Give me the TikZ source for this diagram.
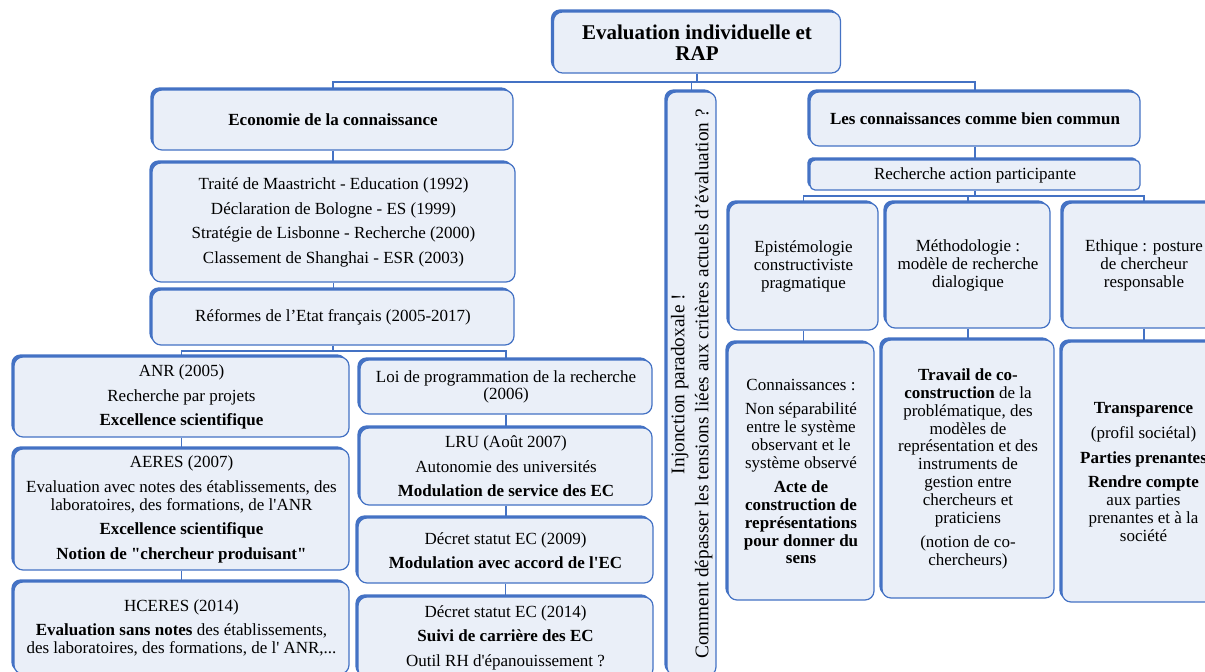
\documentclass[tikz,border=0pt]{standalone}
\usepackage{fontspec}
\setmainfont{Liberation Serif}
\newfontfamily\tnr{Liberation Serif}
\usetikzlibrary{shadows}
\definecolor{bblue}{HTML}{4472C4}
\definecolor{bfill}{HTML}{EAEFF8}
\tikzset{
  box/.style={draw=bblue, line width=1.2pt, fill=bfill, rounded corners=9pt,
    align=center, inner sep=2pt,
    font=\tnr\fontsize{17}{17.8}\selectfont,
    general shadow={fill=bblue, shadow xshift=-2.6pt, shadow yshift=2.6pt}},
  conn/.style={draw=bblue, line width=1.3pt},
}
\begin{document}
\begin{tikzpicture}[x=1pt,y=-1pt]
\useasboundingbox (0,0) rectangle (1205,672);
\clip (0,0) rectangle (1205,672);

% title
\node[box, minimum width=287pt, minimum height=61pt, font=\tnr\fontsize{21}{20.5}\selectfont\bfseries] (top) at (697,42.5) {Evaluation individuelle et\\RAP};

% left branch
\node[box, minimum width=360pt, minimum height=60pt, font=\tnr\fontsize{17}{17.8}\selectfont\bfseries] (eco) at (333,120) {Economie de la connaissance};
\node[box, minimum width=363pt, minimum height=119pt] (tra) at (333.5,222.5) {Traité de Maastricht - Education (1992)\\[6.8pt]Déclaration de Bologne - ES (1999)\\[6.8pt]Stratégie de Lisbonne - Recherche (2000)\\[6.8pt]Classement de Shanghai - ESR (2003)};
\node[box, minimum width=362pt, minimum height=55pt] (ref) at (333,317.5) {Réformes de l’Etat français (2005-2017)};

\node[box, minimum width=335pt, minimum height=80pt] (anr) at (181.5,397) {ANR (2005)\\[6.8pt]Recherche par projets\\[6.8pt]\textbf{Excellence scientifique}};
\node[box, minimum width=335pt, minimum height=121pt] (aeres) at (181.5,509.5) {AERES (2007)\\[6.8pt]Evaluation avec notes des établissements, des\\laboratoires, des formations, de l'ANR\\[6.8pt]\textbf{Excellence scientifique}\\[6.8pt]\textbf{Notion de "chercheur produisant"}};
\node[box, minimum width=335pt, minimum height=92pt] (hceres) at (181.5,628) {HCERES (2014)\\[6.8pt]\textbf{Evaluation sans notes} des établissements,\\des laboratoires, des formations, de l' ANR,...};

\node[box, minimum width=292pt, minimum height=54pt] (loi) at (506,387) {Loi de programmation de la recherche\\(2006)};
\node[box, minimum width=292pt, minimum height=77pt] (lru) at (506,466.5) {LRU (Août 2007)\\[6.8pt]Autonomie des universités\\[6.8pt]\textbf{Modulation de service des EC}};
\node[box, minimum width=295pt, minimum height=65pt] (dec9) at (505.5,550.5) {Décret statut EC (2009)\\[6.8pt]\textbf{Modulation avec accord de l'EC}};
\node[box, minimum width=295pt, minimum height=81pt] (dec14) at (505.5,637.5) {Décret statut EC (2014)\\[6.8pt]\textbf{Suivi de carrière des EC}\\[6.8pt]Outil RH d'épanouissement ?};

% vertical box
\node[box, minimum width=49pt, minimum height=584pt, inner sep=0pt, font=\tnr\fontsize{19.3}{24}\selectfont] (inj) at (691.5,384) {\rotatebox{90}{\begin{tabular}{@{}c@{}}Injonction paradoxale !\\Comment dépasser les tensions liées aux critères actuels d’évaluation ?\end{tabular}}};

% right branch
\node[box, minimum width=330pt, minimum height=54pt, font=\tnr\fontsize{17}{17.8}\selectfont\bfseries] (lcc) at (975,119) {Les connaissances comme bien commun};
\node[box, minimum width=330pt, minimum height=30pt, rounded corners=5pt] (rap) at (975,175) {Recherche action participante};

\node[box, minimum width=149pt, minimum height=127pt] (epi) at (803.5,266.5) {Epistémologie\\constructiviste\\pragmatique};
\node[box, minimum width=164pt, minimum height=125pt] (met) at (968,265.5) {Méthodologie :\\modèle de recherche\\dialogique};
\node[box, minimum width=162pt, minimum height=125pt] (eth) at (1144,265.5) {Ethique : posture\\de chercheur\\responsable};

\node[box, minimum width=146pt, minimum height=257pt] (con) at (801,471.5) {Connaissances :\\[6.8pt]Non séparabilité\\entre le système\\observant et le\\système observé\\[6.8pt]\textbf{Acte de}\\\textbf{construction de}\\\textbf{représentations}\\\textbf{pour donner du}\\\textbf{sens}};
\node[box, minimum width=172pt, minimum height=258pt] (tra2) at (968,469) {\textbf{Travail de co-}\\\textbf{construction} de la\\problématique, des\\modèles de\\représentation et des\\instruments de\\gestion entre\\chercheurs et\\praticiens\\[6.8pt](notion de co-\\chercheurs)};
\node[box, minimum width=163pt, minimum height=260pt] (ethd) at (1143.5,472) {\textbf{Transparence}\\[6.8pt](profil sociétal)\\[6.8pt]\textbf{Parties prenantes}\\[6.8pt]\textbf{Rendre compte}\\aux parties\\prenantes et à la\\société};

% connectors
\coordinate (hA) at (697,82);
\coordinate (hB) at (333,351);
\coordinate (hC) at (975,196);
\draw[conn] (top.south) -- (hA);
\draw[conn] (hA) -| (eco.north);
\draw[conn] (hA) -| (lcc.north);
\draw[conn] (hA) -| (inj.north);
\draw[conn] (eco.south) -- (tra.north -| eco.south);
\draw[conn] (tra.south) -- (ref.north -| tra.south);
\draw[conn] (ref.south) -- (hB);
\draw[conn] (hB) -| (anr.north);
\draw[conn] (hB) -| (loi.north);
\draw[conn] (anr.south) -- (aeres.north);
\draw[conn] (aeres.south) -- (hceres.north);
\draw[conn] (loi.south) -- (lru.north);
\draw[conn] (lru.south) -- (dec9.north -| lru.south);
\draw[conn] (dec9.south) -- (dec14.north);
\draw[conn] (lcc.south) -- (rap.north);
\draw[conn] (rap.south) -- (hC);
\draw[conn] (hC) -| (epi.north);
\draw[conn] (hC) -| (met.north);
\draw[conn] (hC) -| (eth.north);
\draw[conn] (epi.south) -- (con.north -| epi.south);
\draw[conn] (met.south) -- (tra2.north -| met.south);
\draw[conn] (eth.south) -- (ethd.north -| eth.south);
\end{tikzpicture}
\end{document}
